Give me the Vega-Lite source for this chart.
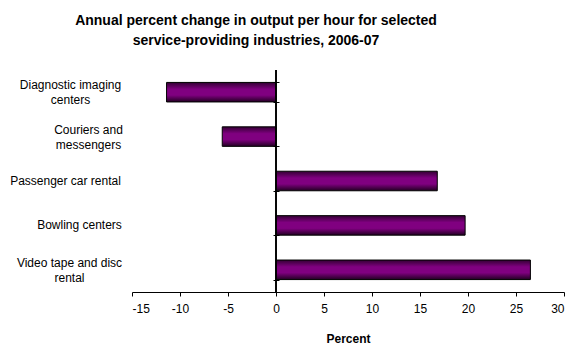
{
  "$schema": "https://vega.github.io/schema/vega-lite/v6.json",
  "autosize": "none",
  "width": 432,
  "height": 222,
  "padding": {"left": 132, "top": 70, "right": 16, "bottom": 68},
  "background": "white",
  "config": {
    "font": "Liberation Sans",
    "view": {"stroke": null}
  },
  "title": {
    "text": ["Annual percent change in output per hour for selected", "service-providing industries, 2006-07"],
    "font": "Liberation Sans",
    "fontSize": 14,
    "fontWeight": "bold",
    "lineHeight": 19.5,
    "anchor": "middle",
    "frame": "group",
    "dx": -92,
    "offset": 22,
    "color": "black"
  },
  "data": {
    "values": [
      {"industry": "Diagnostic imaging centers", "change": -11.4},
      {"industry": "Couriers and messengers", "change": -5.6},
      {"industry": "Passenger car rental", "change": 16.8},
      {"industry": "Bowling centers", "change": 19.7},
      {"industry": "Video tape and disc rental", "change": 26.5}
    ]
  },
  "encoding": {
    "x": {
      "field": "change",
      "type": "quantitative",
      "scale": {"domain": [-15, 30], "nice": false, "zero": false},
      "axis": {
        "values": [-15, -10, -5, 0, 5, 10, 15, 20, 25, 30],
        "labelExpr": "'' + datum.value",
        "title": "Percent",
        "titleFont": "Liberation Sans",
        "titleFontSize": 12,
        "titleFontWeight": "bold",
        "titleColor": "black",
        "titlePadding": 19,
        "labelFont": "Liberation Sans",
        "labelFontSize": 12,
        "labelColor": "black",
        "labelPadding": 7,
        "tickSize": 4,
        "tickColor": "black",
        "domainColor": "black",
        "grid": false
      }
    }
  },
  "layer": [
    {
      "mark": {
        "type": "bar",
        "stroke": "black",
        "strokeWidth": 1,
        "color": {
          "gradient": "linear",
          "x1": 0, "y1": 0, "x2": 0, "y2": 1,
          "stops": [
            {"offset": 0, "color": "#330033"},
            {"offset": 0.35, "color": "#800080"},
            {"offset": 0.65, "color": "#800080"},
            {"offset": 1, "color": "#220022"}
          ]
        }
      },
      "encoding": {
        "y": {
          "field": "industry",
          "type": "nominal",
          "sort": null,
          "scale": {"paddingInner": 0.56, "paddingOuter": 0.28},
          "axis": {
            "orient": "left",
            "title": null,
            "domain": false,
            "ticks": false,
            "labelFont": "Liberation Sans",
            "labelFontSize": 12,
            "labelColor": "black",
            "labelAlign": "center",
            "labelPadding": {
              "condition": [
                {"test": "datum.value == 'Diagnostic imaging centers'", "value": 62},
                {"test": "datum.value == 'Couriers and messengers'", "value": 44},
                {"test": "datum.value == 'Passenger car rental'", "value": 67},
                {"test": "datum.value == 'Bowling centers'", "value": 53},
                {"test": "datum.value == 'Video tape and disc rental'", "value": 63}
              ],
              "value": 10
            },
            "labelOffset": {
              "condition": {"test": "datum.value == 'Diagnostic imaging centers' || datum.value == 'Couriers and messengers' || datum.value == 'Video tape and disc rental'", "value": -7},
              "value": 0
            },
            "labelLineHeight": 15,
            "labelLimit": 200,
            "labelExpr": "datum.value == 'Diagnostic imaging centers' ? ['Diagnostic imaging', 'centers'] : datum.value == 'Couriers and messengers' ? ['Couriers and', 'messengers'] : datum.value == 'Video tape and disc rental' ? ['Video tape and disc', 'rental'] : datum.label"
          }
        }
      }
    },
    {
      "mark": {"type": "bar", "opacity": 0},
      "encoding": {
        "y": {
          "field": "industry",
          "type": "nominal",
          "sort": null,
          "axis": {
            "orient": "left",
            "title": null,
            "domain": false,
            "labels": false,
            "ticks": true,
            "tickBand": "extent",
            "tickSize": 6,
            "tickColor": "black",
            "offset": -147
          }
        }
      }
    },
    {
      "mark": {"type": "rule", "color": "black", "strokeWidth": 1},
      "encoding": {"x": {"datum": 0}}
    }
  ],
  "resolve": {"axis": {"y": "independent"}}
}
